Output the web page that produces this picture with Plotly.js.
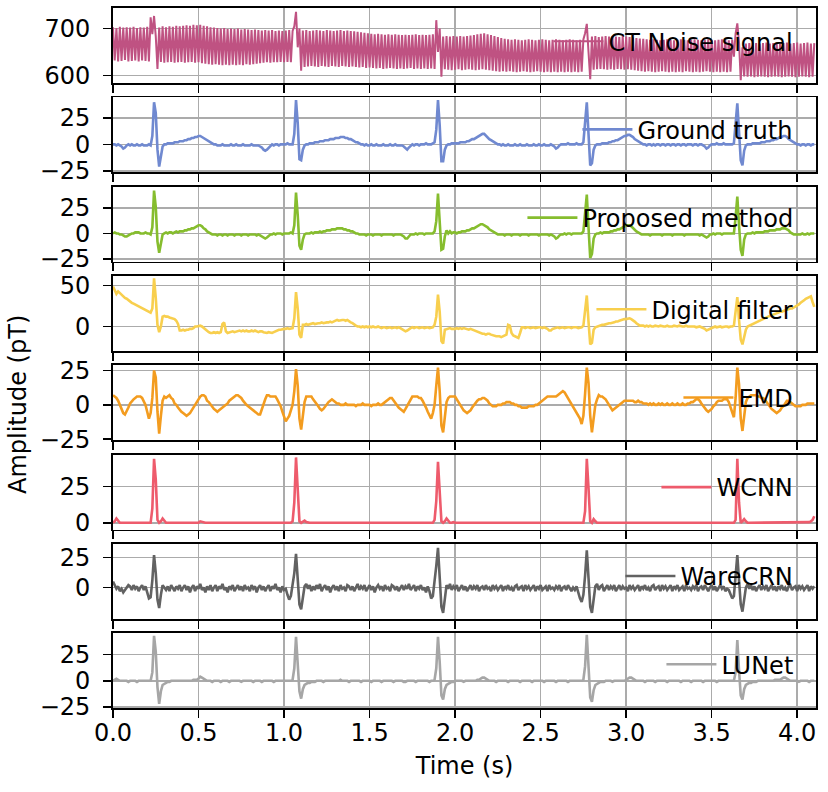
<!DOCTYPE html>
<html>
<head>
<meta charset="utf-8">
<script src="https://cdn.plot.ly/plotly-3.0.1.min.js"></script>
<style>
  html, body { margin: 0; padding: 0; background: #fff; }
  #plot { width: 828px; height: 792px; }
</style>
</head>
<body>
<div id="plot"></div>
<script>
// sample spacing of every recording (s)
const timeStep = 0.01;

const ctNoise = [
  703, 632, 701, 630, 704, 631, 702, 633, 703, 630,
  702, 631, 704, 632, 701, 630, 703, 632, 702, 631,
  704, 630, 724, 688, 727, 684, 614, 702, 629, 705,
  627, 703, 628, 705, 629, 704, 627, 706, 628, 705,
  629, 706, 627, 707, 628, 706, 629, 708, 627, 707,
  628, 708, 626, 706, 625, 705, 624, 703, 623, 702,
  624, 701, 623, 700, 622, 701, 623, 699, 622, 700,
  623, 699, 622, 700, 623, 698, 622, 699, 624, 698,
  623, 697, 624, 698, 625, 697, 626, 696, 627, 697,
  628, 696, 627, 697, 628, 695, 628, 696, 629, 695,
  628, 696, 629, 697, 628, 695, 705, 736, 660, 700,
  610, 696, 618, 697, 619, 695, 620, 696, 619, 697,
  618, 696, 620, 695, 619, 697, 618, 696, 620, 695,
  619, 696, 618, 697, 620, 695, 619, 696, 618, 695,
  619, 694, 618, 693, 617, 692, 618, 691, 616, 690,
  617, 689, 616, 688, 615, 689, 616, 688, 614, 687,
  615, 688, 616, 687, 615, 688, 614, 687, 615, 686,
  614, 687, 615, 686, 616, 687, 614, 688, 615, 686,
  614, 687, 615, 686, 614, 687, 615, 688, 614, 718,
  650, 700, 597, 683, 613, 684, 612, 683, 611, 684,
  612, 683, 613, 684, 611, 683, 612, 684, 613, 685,
  612, 686, 611, 688, 612, 689, 613, 690, 612, 688,
  611, 686, 610, 684, 609, 682, 608, 680, 609, 678,
  608, 677, 609, 676, 608, 677, 607, 676, 608, 675,
  609, 676, 608, 677, 607, 676, 608, 675, 609, 676,
  608, 677, 607, 676, 608, 675, 607, 676, 608, 677,
  607, 676, 608, 675, 607, 676, 608, 677, 607, 676,
  608, 675, 607, 676, 608, 677, 690, 710, 650, 592,
  683, 612, 684, 613, 682, 614, 683, 613, 684, 612,
  683, 613, 684, 612, 683, 614, 682, 613, 684, 612,
  683, 613, 682, 612, 681, 611, 680, 610, 679, 609,
  678, 608, 677, 609, 676, 608, 677, 607, 676, 608,
  675, 609, 676, 608, 677, 607, 676, 608, 675, 607,
  676, 608, 677, 607, 676, 609, 675, 608, 676, 607,
  677, 608, 676, 607, 675, 608, 676, 609, 677, 608,
  676, 607, 675, 608, 676, 607, 677, 608, 676, 607,
  675, 608, 676, 640, 690, 711, 670, 590, 660, 598,
  668, 597, 669, 598, 670, 596, 669, 597, 668, 598,
  669, 597, 670, 596, 668, 597, 669, 598, 670, 597,
  668, 596, 669, 597, 670, 598, 668, 597, 669, 596,
  670, 597, 668, 598, 669, 597, 670, 596, 668, 597,
  669
];

const groundTruth = [
  0, 0, -1, 0, -1, -2, -4, -3, -1, 0,
  -1, 0, -1, -1, 0, -1, -1, 0, -1, -1,
  -1, 0, -1, 8, 40, 30, -5, -21, -9, -2,
  0, 0, 1, 1, 1, 1, 2, 2, 2, 3,
  3, 3, 4, 4, 5, 5, 6, 6, 7, 7,
  8, 8, 7, 6, 5, 4, 3, 2, 1, 0,
  0, -1, -1, -1, 0, -1, -1, -1, -1, 0,
  -1, -1, 0, -1, -1, -1, 0, -1, -1, -1,
  -1, 0, -1, -1, -1, -1, -2, -3, -5, -6,
  -5, -3, -1, 0, -1, 0, 0, -1, 0, 0,
  0, 0, 1, 0, 0, 0, 10, 42, 20, -14,
  -15, -5, -1, 0, 0, 1, 1, 1, 2, 2,
  2, 3, 3, 3, 4, 4, 4, 5, 5, 5,
  6, 6, 6, 7, 7, 7, 6, 6, 5, 5,
  4, 3, 2, 2, 1, 0, 0, -1, 0, -1,
  -1, 0, -1, -1, 0, -1, -1, -1, 0, -1,
  -1, -1, 0, -1, -1, 0, -1, -1, -1, -1,
  -2, -4, -5, -3, -1, 0, -1, 0, 0, -1,
  0, 0, 0, 1, 0, 0, 0, 1, 2, 14,
  42, 18, -16, -16, -5, -1, 0, 0, 1, 1,
  1, 1, 1, 2, 2, 2, 2, 3, 3, 4,
  5, 5, 6, 7, 8, 9, 10, 10, 8, 7,
  5, 4, 3, 2, 1, 0, 0, -1, 0, -1,
  -1, 0, -1, -1, -1, 0, -1, -1, 0, -1,
  -1, -1, 0, -1, -1, -1, 0, -1, -1, 0,
  -1, -1, 0, -1, -1, -1, 0, -1, -2, -4,
  -3, -1, 0, 0, 0, 0, 1, 0, 0, 0,
  0, 1, 0, 0, 0, 2, 20, 40, 10, -20,
  -18, -5, -1, 0, 0, 0, 1, 1, 1, 1,
  2, 2, 3, 3, 4, 4, 5, 6, 7, 8,
  8, 9, 9, 8, 7, 5, 4, 3, 2, 1,
  0, 0, -1, 0, 0, -1, 0, -1, 0, 0,
  -1, 0, 0, -1, 0, 0, -1, 0, 0, -1,
  0, 0, -1, 0, 0, -1, 0, 0, 0, -1,
  0, 0, -1, 0, 0, -1, -2, -4, -3, -1,
  0, 0, 0, 1, 0, 0, 0, 1, 0, 0,
  0, 0, 0, 1, 18, 39, 12, -15, -20, -6,
  -1, 0, 0, 0, 1, 1, 1, 1, 1, 2,
  2, 2, 3, 3, 3, 4, 4, 5, 5, 6,
  7, 7, 8, 8, 7, 5, 4, 3, 2, 1,
  0, 0, -1, 0, 0, -1, 0, 0, -1, 0,
  0
];

const proposedMethod = [
  0, 1, 0, 0, -1, -1, -2, -3, -3, -2,
  -1, 0, 0, 1, 1, 1, 0, 0, 0, 1,
  0, 0, -1, 6, 42, 26, -8, -19, -10, -1,
  0, 1, 0, 1, 1, 0, 1, 2, 1, 2,
  2, 2, 3, 3, 4, 4, 5, 5, 6, 7,
  8, 8, 7, 5, 4, 2, 1, 0, -1, -1,
  -1, -2, -1, -1, -2, -1, -1, -2, -1, -1,
  -1, -2, -1, -1, -1, -2, -1, -1, -1, -2,
  -1, -1, -1, -1, -2, -1, -2, -3, -4, -5,
  -4, -2, -1, -1, 0, -1, 0, 0, 0, -1,
  0, 0, 0, 0, 1, 0, 8, 40, 18, -12,
  -16, -6, -1, 0, 0, 0, 1, 0, 1, 1,
  1, 2, 1, 2, 2, 3, 3, 3, 4, 4,
  4, 5, 5, 5, 5, 4, 4, 3, 3, 2,
  2, 1, 0, 0, -1, -1, -1, -1, -2, -1,
  -1, -1, -2, -1, -1, -1, -1, -2, -1, -1,
  -1, -1, -1, -1, -2, -1, -1, -1, -1, -2,
  -3, -5, -5, -3, -1, -1, -1, 0, -1, 0,
  0, 0, -1, 0, 0, 0, 0, 0, 2, 12,
  39, 16, -16, -15, -3, 3, 0, 2, 0, 1,
  1, 0, 1, 1, 2, 2, 2, 3, 3, 4,
  5, 5, 6, 7, 8, 9, 9, 8, 7, 6,
  4, 3, 2, 1, 0, -1, -1, -1, -1, -2,
  -1, -1, -1, -2, -1, -1, -1, -1, -2, -1,
  -1, -1, -1, -2, -1, -1, -1, -1, -1, -2,
  -1, -1, -1, -1, -1, -2, -1, -2, -3, -5,
  -4, -2, -1, -1, 0, -1, 0, 0, -1, 0,
  0, 0, 0, 0, 0, 2, 18, 38, 6, -24,
  -20, -5, -1, 0, 0, 1, 0, 1, 1, 1,
  1, 2, 2, 3, 3, 4, 4, 5, 6, 7,
  8, 8, 8, 7, 5, 4, 2, 1, 0, -1,
  -1, -1, -1, -1, -2, -1, -1, -1, -1, -1,
  -1, -2, -1, -1, -1, -1, -1, -2, -1, -1,
  -1, -1, -1, -1, -2, -1, -1, -1, -1, -1,
  -1, -1, -1, -2, -1, -2, -3, -4, -3, -1,
  -1, 0, -1, 0, 0, 0, -1, 0, 0, 0,
  0, 0, 0, 0, 16, 36, 8, -16, -22, -6,
  -1, 0, 0, 0, 1, 0, 1, 1, 1, 1,
  1, 2, 2, 2, 3, 3, 3, 3, 4, 4,
  4, 5, 5, 5, 4, 3, 1, 0, -1, -1,
  -1, -1, -1, 0, -1, -1, 0, -1, 0, 0,
  0
];

const digitalFilter = [
  49, 44, 40, 43, 41, 38, 37, 35, 34, 32,
  30, 29, 28, 27, 25, 24, 23, 22, 21, 20,
  19, 18, 17, 22, 59, 35, 2, -7, 0, 12,
  13, 12, 12, 11, 10, 10, 9, 7, 3, -5,
  -5, -4, -5, -4, -4, -3, -3, -2, 0, 0,
  1, 1, 0, -2, -3, -5, -7, -8, -8, -7,
  -8, -7, -8, -7, 3, 5, -6, -8, -7, -6,
  -6, -7, -6, -6, -5, -6, -5, -6, -5, -6,
  -6, -5, -6, -5, -6, -7, -6, -6, -7, -8,
  -8, -7, -8, -8, -7, -6, -5, -4, -4, -3,
  -3, -3, -2, -3, -2, -2, 10, 42, 22, -10,
  -14, 2, 2, 3, 2, 3, 3, 4, 3, 4,
  4, 4, 5, 4, 5, 5, 5, 6, 5, 6,
  7, 8, 7, 8, 8, 8, 7, 8, 7, 5,
  4, 2, 1, 0, 0, -1, 0, -1, 0, -1,
  0, -1, 0, -1, -1, 0, -1, -2, -1, -1,
  -2, -1, -1, -2, -1, -1, -2, -1, -2, -3,
  -4, -6, -5, -3, -2, -1, -2, -1, -1, -2,
  -1, -1, -2, -1, -1, -2, -1, -1, 2, 12,
  39, 18, -18, -21, -4, -3, -3, -2, -3, -3,
  -3, -2, -3, -2, -3, -2, -3, -3, -4, -3,
  -4, -5, -6, -7, -8, -8, -9, -9, -10, -9,
  -9, -10, -11, -11, -12, -12, -12, -13, -12, -12,
  -10, 2, 1, -8, -11, -12, -13, -14, -8, -1,
  -1, -2, -1, -1, -2, -1, -1, -2, -1, -1,
  -1, -2, -1, -2, -3, -5, -5, -3, -2, -1,
  -1, -2, -1, -1, -2, -1, -1, -1, -2, -1,
  -1, -1, -2, -1, -1, 1, 18, 38, 6, -22,
  -20, -4, -1, 0, 1, 1, 2, 2, 3, 3,
  4, 4, 5, 5, 6, 6, 7, 8, 8, 9,
  9, 10, 10, 9, 8, 6, 4, 2, 1, 1,
  1, 0, 1, 0, 1, 0, 0, 1, 0, 0,
  1, 0, 0, 0, 1, 0, 0, 0, 1, 0,
  0, 1, 0, 0, 0, 1, 0, 0, 0, 0,
  0, -1, 0, 0, -1, -2, -3, -5, -4, -2,
  -1, 0, 0, -1, 0, 0, -1, 0, 0, 0,
  -1, 0, 0, 1, 16, 36, 8, -16, -22, -12,
  -4, 0, 1, 2, 3, 4, 5, 6, 7, 8,
  10, 10, 11, 12, 13, 14, 15, 16, 17, 17,
  18, 18, 19, 20, 20, 21, 22, 22, 23, 24,
  26, 27, 29, 30, 32, 34, 35, 36, 37, 30,
  24
];

const emd = [
  7, 6, 5, 3, 0, -3, -6, -7, -5, -2,
  1, 3, 4, 5, 6, 6, 6, 5, 3, 0,
  -5, -10, -6, 5, 25, 20, -5, -21, -8, 3,
  6, 5, 6, 7, 5, 4, 1, 0, -2, -4,
  -5, -6, -7, -8, -7, -6, -4, -2, 0, 3,
  5, 6, 7, 7, 6, 3, 2, 0, -2, -3,
  -4, -5, -4, -3, -2, -1, 0, 1, 3, 4,
  5, 6, 7, 7, 6, 5, 3, 1, 0, -1,
  -2, -3, -4, -5, -6, -7, -7, -3, 1, 4,
  7, 7, 6, 6, 6, 6, 4, 2, -1, -5,
  -9, -12, -10, -8, -4, 0, 10, 26, 14, -10,
  -18, -8, 2, 6, 6, 6, 6, 4, 2, 0,
  -1, -3, -4, -3, -1, 1, 2, 3, 4, 3,
  2, 1, 1, 0, 0, 0, 1, 0, 0, 0,
  0, 0, -1, 0, 0, 0, 1, 0, 0, 0,
  0, -1, 0, 0, 0, 1, 0, 0, 1, 2,
  3, 4, 5, 5, 3, 2, 0, -2, -3, -4,
  -5, -3, -1, 1, 4, 6, 6, 6, 6, 5,
  5, 3, 1, -2, -5, -8, -10, -6, 0, 14,
  27, 10, -15, -20, -8, 2, 5, 6, 6, 6,
  6, 4, 2, 0, -2, -4, -5, -6, -5, -4,
  -2, 0, 2, 3, 4, 4, 5, 5, 4, 3,
  1, 0, -1, -1, -1, 0, 0, 0, 1, 1,
  2, 2, 2, 1, 1, 0, 0, -1, -1, -2,
  -2, -2, -2, -1, -1, -1, -1, 0, 0, 1,
  2, 3, 4, 5, 6, 6, 6, 6, 6, 6,
  7, 8, 9, 10, 9, 7, 5, 3, 1, -1,
  -3, -5, -8, -10, -14, -8, 8, 27, 16, -8,
  -20, -10, 0, 4, 7, 6, 6, 5, 4, 2,
  0, -2, -4, -3, -2, -1, 0, 1, 2, 3,
  3, 3, 3, 3, 3, 2, 2, 3, 2, 2,
  1, 1, 1, 0, 1, 0, 1, 0, 0, 1,
  0, 1, 0, 0, 1, 0, 0, 1, 0, 0,
  1, 0, 0, 1, 0, 0, 1, 1, 2, 2,
  3, 4, 4, 3, 1, -1, -3, -4, -5, -4,
  -3, -1, 0, 2, 3, 3, 3, 4, 4, 4,
  2, -2, -5, -9, 5, 27, 15, -10, -19, -8,
  2, 5, 6, 7, 7, 7, 7, 6, 6, 5,
  5, 4, 2, 0, -1, -3, -4, -5, -6, -5,
  -4, -2, -1, 1, 3, 3, 2, 1, 0, -1,
  -1, -1, -1, 0, 0, 0, 1, 1, 1, 1,
  1
];

const wcnn = [
  0, 1, 3, 1, 0, 0, 0, 0.5, 0, 0,
  0, 0, 0.5, 0, 0, 0, 0, 0.5, 0, 0,
  0, 0, 0, 10, 44, 30, 2, 0, 1, 3,
  1, 0, 0, 0, 0.5, 0, 0, 0, 0, 0.5,
  0, 0, 0, 0.5, 0, 0, 0, 0, 0.5, 0,
  0, 1, 0.5, 0, 0, 0, 0, 0.5, 0, 0,
  0, 0, 0.5, 0, 0, 0, 0, 0, 0.5, 0,
  0, 0, 0, 0.5, 0, 0, 0, 0.5, 0, 0,
  0, 0.5, 0, 0, 0, 0, 0.5, 0, 0, 0,
  0, 0, 0.5, 0, 0, 0, 0, 0, 0.5, 0,
  0, 0, 0, 0, 0, 1, 14, 45, 20, 1,
  0, 1, 1.5, 0.5, 0, 0, 0, 0, 0.5, 0,
  0, 0, 0, 0.5, 0, 0, 0, 0, 0, 0.5,
  0, 0, 0, 0, 0.5, 0, 0, 0, 0, 0,
  0.5, 0, 0, 0, 0, 0.5, 0, 0, 0, 0,
  0, 0, 0.5, 0, 0, 0, 0, 0.5, 0, 0,
  0, 0, 0, 0, 0.5, 0, 0, 0, 0, 0.5,
  0, 0, 0, 0.5, 0, 0, 0, 0, 0.5, 0,
  0, 0, 0.5, 0, 0, 0, 0, 0, 2, 15,
  42, 16, 1, 0, 1, 3, 1, 0, 0, 0.5,
  0, 0, 0, 0, 0.5, 0, 0, 0, 0, 0,
  0.5, 0, 0, 0, 0, 0.5, 0, 0, 0, 0,
  0, 0, 0.5, 0, 0, 0, 0, 0.5, 0, 0,
  0, 0, 0, 0, 0.5, 0, 0, 0, 0, 0.5,
  0, 0, 0, 0.5, 0, 0, 0, 0, 0.5, 0,
  0, 0, 0, 0, 0, 0.5, 0, 0, 0, 0,
  0.5, 0, 0, 0, 0, 0, 0.5, 0, 0, 0,
  0, 0, 0.5, 0, 0, 0, 8, 44, 24, 1,
  0, 2.5, 1, 0, 0, 0, 0.5, 0, 0, 0,
  0, 0.5, 0, 0, 0, 0, 0, 0.5, 0, 0,
  0, 0, 0, 0.5, 0, 0, 0, 0, 0.5, 0,
  0, 0, 0, 0, 0.5, 0, 0, 0, 0, 0,
  0.5, 0, 0, 0, 0, 0, 0.5, 0, 0, 0,
  0, 0, 0.5, 0, 0, 0, 0, 0, 0.5, 0,
  0, 0, 0, 0, 0.5, 0, 0, 0, 0, 0.5,
  0, 0, 0, 0, 0, 0.5, 0, 0, 0, 0,
  0, 0, 0, 0, 2, 44, 14, 0, 1, 2.5,
  1, 0, 0, 0, 0.5, 0, 0, 0, 0, 0,
  0.5, 0, 0, 0, 0, 0.5, 0, 0, 0, 0,
  0, 0, 0.5, 0, 0, 0, 0, 0.5, 0, 0,
  0, 0, 0, 0.5, 0, 0, 0, 0.5, 1, 2,
  4.5
];

const wareCrn = [
  5, 2, -1, 1, -3, -1, -4, -2, 0, 2,
  1, -2, 2, -1, 1, -3, 0, 2, -2, 1,
  -4, -9, -8, 6, 27, 12, -10, -17, -6, 2,
  0, -2, 1, -3, 2, 0, -3, 1, -1, 2,
  -3, 0, 2, -2, 1, -4, 0, 2, -3, 1,
  -1, 3, -2, 0, -4, 1, -2, 2, -3, 0,
  2, -3, 1, -1, 3, -2, 0, -4, 1, -1,
  2, -3, 0, 2, -2, 1, -3, 2, -1, 0,
  -3, 2, -1, 1, -4, 0, 2, -2, 1, -3,
  0, 2, -3, 1, -1, 3, -2, 0, -4, 1,
  -2, -1, -6, -10, -7, 2, 12, 28, 6, -14,
  -18, -8, 1, 3, -1, 2, -3, 1, -2, 2,
  -1, 3, -3, 0, 2, -2, 1, -4, 0, 2,
  -2, 1, -3, 2, -1, 0, -3, 2, 1, -2,
  1, -3, 0, 3, -2, 1, -1, 2, -3, 0,
  2, -2, 1, -4, 0, 2, -1, 1, -3, 2,
  -1, 0, -3, 2, 1, -2, 1, -3, 0, 2,
  -2, 1, -1, 3, -2, 0, 2, -3, 1, -1,
  2, -2, 0, -4, 1, -3, -9, -7, 4, 18,
  33, 8, -16, -21, -8, 2, -1, 3, -2, 1,
  -1, 2, -3, 0, 2, -2, 1, -3, 0, 2,
  -2, 1, -1, 2, -3, 0, 1, -2, 2, -1,
  0, -3, 2, -1, 1, -2, 0, 2, -3, 1,
  -1, 2, -2, 0, -3, 1, 2, -2, 0, 1,
  -3, 2, -1, 1, -2, 0, 2, -3, 1, -1,
  2, -2, 0, 1, -3, 2, -1, 0, -2, 1,
  -1, 2, -3, 0, 1, -2, 2, -1, -3, 0,
  -2, 1, -5, -9, -12, -6, 10, 31, 8, -16,
  -21, -9, 1, 3, -2, 1, 2, -3, 0, 2,
  -2, 1, -1, 2, -3, 0, 2, -2, 1, -1,
  0, -3, 2, -1, 1, -2, 0, 2, -3, 1,
  -1, 2, -2, 0, -3, 1, 2, -2, 0, 1,
  -3, 2, -1, 1, -2, 0, 2, -3, 1, -1,
  2, -2, 0, 1, -3, 2, -1, 0, -2, 1,
  -1, 2, -3, 0, 1, -2, 2, -1, -3, 0,
  2, -2, 1, -3, 0, 2, -1, 1, -3, -1,
  -2, -6, -9, -7, 8, 27, 6, -14, -20, -8,
  0, 3, -1, 2, -2, 1, -3, 0, 2, -2,
  1, -1, 2, -3, 0, 2, -2, 1, -3, 1,
  -1, 2, -2, 0, -3, 1, 2, -2, 0, 1,
  -3, 2, -1, 1, -2, 0, 2, -3, 1, -1,
  1
];

const luNet = [
  0, 1, 2, 1, 0, 0, 0, 0, 0, -1,
  0, 0, 0, 0, -1, 0, 0, 0, 0, 0,
  0, 0, 0, 8, 43, 28, -6, -22, -10, -4,
  -3, -2, -1, -1, 0, 0, 0, 0, 0, 0,
  0, 0, 0, 0, 0, 0, 0, 1, 1, 1,
  2, 4, 3, 2, 1, 0, 0, 0, -1, 0,
  0, 0, 0, -1, 0, 0, 0, 0, -1, 0,
  0, 0, 0, 0, 0, -1, 0, 0, 0, 0,
  0, 0, -1, 0, 0, 0, 0, -1, 0, 0,
  0, 0, 0, 0, -1, 0, 0, 0, 0, 0,
  0, 0, 0, 0, 0, 1, 12, 42, 20, -10,
  -17, -8, -4, -3, -2, -2, -1, -1, -1, 0,
  0, 0, 0, -1, 0, 0, 0, 0, 0, 0,
  0, 0, 0, 1, 0, 0, 0, 0, -1, 0,
  0, 0, 0, 0, 0, -1, 0, 0, 0, 0,
  0, -1, 0, 0, 0, 0, 0, -1, 0, 0,
  0, 0, 0, 0, -1, 0, 0, 0, 0, 0,
  -1, -1, 0, 0, 0, 0, 0, -1, 0, 0,
  0, 0, 0, 0, 0, -1, 0, 0, 1, 12,
  42, 18, -14, -18, -8, -4, -3, -2, -1, -1,
  0, 0, 0, 0, 0, -1, 0, 0, 0, 0,
  0, 0, 0, 1, 1, 2, 3, 3, 2, 1,
  0, 0, 0, 0, -1, 0, 0, 0, 0, 0,
  0, -1, 0, 0, 0, 0, 0, 0, -1, 0,
  0, 0, 0, 0, 0, -1, 0, 0, 0, 0,
  0, 0, -1, 0, 0, 0, 0, 0, 0, -1,
  0, 0, 0, 0, 0, 0, -1, 0, 0, 0,
  0, 0, 0, 0, 0, 1, 14, 44, 12, -16,
  -20, -9, -4, -3, -2, -1, -1, -1, 0, 0,
  0, 0, -1, 0, 0, 0, 0, 0, 0, 0,
  1, 2, 3, 3, 2, 1, 0, 0, 0, 0,
  0, -1, 0, 0, 0, 0, 0, -1, 0, 0,
  0, 0, 0, 0, -1, 0, 0, 0, 0, 0,
  0, 0, -1, 0, 0, 0, 0, 0, -1, 0,
  0, 0, 0, 0, 0, -1, 0, 0, 0, 0,
  0, 0, 0, -1, 0, 0, 0, 0, 0, 0,
  0, 0, 0, 0, 8, 39, 10, -14, -18, -8,
  -4, -3, -2, -2, -1, -1, -1, 0, 0, 0,
  0, 0, 0, 0, 0, 0, 0, 1, 1, 1,
  1, 2, 3, 3, 2, 1, 0, 0, 0, 0,
  0, -1, 0, 0, 0, 0, 0, -1, 0, 0,
  0
];

const seriesNames = ['CT Noise signal', 'Ground truth', 'Proposed method', 'Digital filter',
                     'EMD', 'WCNN', 'WareCRN', 'LUNet'];
const seriesValues = [ctNoise, groundTruth, proposedMethod, digitalFilter, emd, wcnn, wareCrn, luNet];
const xTicks = [0, 0.5, 1, 1.5, 2, 2.5, 3, 3.5, 4];
const yTicks = [[600, 700], [-25, 0, 25], [-25, 0, 25], [0, 50],
                [-25, 0, 25], [0, 25], [0, 25], [-25, 0, 25]];

// styling
const colors = ['#bf5282', '#7089d0', '#86bd2e', '#f8cf4e', '#f39c1f', '#ee5b6c', '#626262', '#a6a6a6'];
const widths = [2.0, 2.6, 2.6, 2.6, 2.6, 2.6, 2.6, 2.6];
const yRanges = [[584, 744], [-26.5, 44.7], [-27.6, 45.9], [-30, 62],
                 [-25.7, 28.8], [-4.6, 47], [-26, 36.4], [-26, 45.6]];
const domains = [[0.893, 1.0], [0.7653, 0.8724], [0.6377, 0.7449], [0.5101, 0.6173],
                 [0.3826, 0.4897], [0.255, 0.3621], [0.1274, 0.2346], [0.0, 0.107]];
const legendY = [0.952, 0.826, 0.70, 0.569, 0.443, 0.315, 0.188, 0.062];

const font = {family: 'DejaVu Sans, sans-serif', size: 24, color: '#000'};

const traces = [];
const layout = {
  width: 828, height: 792,
  margin: {l: 113, r: 12, t: 8, b: 84},
  paper_bgcolor: '#fff', plot_bgcolor: '#fff',
  font: font,
  showlegend: true,
  annotations: [{
    text: 'Amplitude (pT)', textangle: -90, showarrow: false,
    xref: 'paper', yref: 'paper', x: -0.135, y: 0.433,
    xanchor: 'center', yanchor: 'middle', font: font
  }]
};

seriesValues.forEach((vals, i) => {
  const s = i === 0 ? '' : String(i + 1);
  const legendId = 'legend' + s;
  traces.push({
    type: 'scatter', mode: 'lines',
    name: seriesNames[i],
    x0: 0, dx: timeStep, y: vals,
    xaxis: 'x' + s, yaxis: 'y' + s,
    legend: legendId,
    line: {color: colors[i], width: widths[i]},
    hoverinfo: 'skip'
  });

  const isBottom = i === seriesValues.length - 1;
  layout['xaxis' + s] = {
    domain: [0, 1], anchor: 'y' + s, range: [0, 4.11],
    tickvals: xTicks, tickformat: '.1f',
    ticks: 'outside', ticklen: 8, tickwidth: 1.6, tickcolor: '#000',
    showticklabels: isBottom, ticklabelstandoff: -6,
    showline: true, mirror: true, linecolor: '#000', linewidth: 1.8,
    showgrid: true, gridcolor: '#ababab', gridwidth: 1.6, zeroline: false,
    title: isBottom ? {text: 'Time (s)', standoff: 12, font: font} : {text: ''}
  };
  layout['yaxis' + s] = {
    domain: domains[i], anchor: 'x' + s, range: yRanges[i],
    tickvals: yTicks[i],
    ticks: 'outside', ticklen: 8, tickwidth: 1.6, tickcolor: '#000',
    ticklabelstandoff: 8,
    showline: true, mirror: true, linecolor: '#000', linewidth: 1.8,
    showgrid: true, gridcolor: '#ababab', gridwidth: 1.6, zeroline: false
  };
  layout[legendId] = {
    x: 0.975, xanchor: 'right', y: legendY[i], yanchor: 'middle',
    bgcolor: 'rgba(0,0,0,0)', borderwidth: 0, font: font, itemwidth: 50
  };
});

Plotly.newPlot('plot', traces, layout, {displayModeBar: false, staticPlot: true});
</script>
</body>
</html>
